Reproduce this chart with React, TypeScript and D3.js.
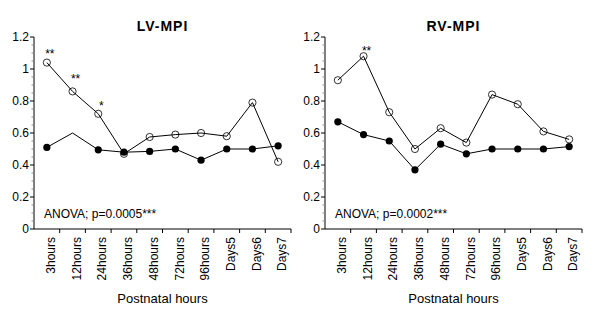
import React from "react";
import * as d3 from "d3";

const categories = ["3hours", "12hours", "24hours", "36hours", "48hours", "72hours", "96hours", "Days5", "Days6", "Days7"];
const yTicks = [0, 0.2, 0.4, 0.6, 0.8, 1, 1.2];

const lvOpen = [1.04, 0.86, 0.72, 0.47, 0.575, 0.59, 0.6, 0.58, 0.79, 0.42];
const lvFilled = [0.51, 0.6, 0.495, 0.48, 0.485, 0.5, 0.43, 0.5, 0.5, 0.52];
const lvFilledHiddenMarkers = ["12hours"];
const lvStars = [
  { cat: "3hours", label: "**", value: 1.067 },
  { cat: "12hours", label: "**", value: 0.91 },
  { cat: "24hours", label: "*", value: 0.745 },
];
const lvAnova = "ANOVA; p=0.0005***";

const rvOpen = [0.93, 1.08, 0.73, 0.5, 0.63, 0.54, 0.84, 0.78, 0.61, 0.56];
const rvFilled = [0.67, 0.59, 0.55, 0.37, 0.53, 0.47, 0.5, 0.5, 0.5, 0.515];
const rvFilledHiddenMarkers: string[] = [];
const rvStars = [{ cat: "12hours", label: "**", value: 1.087 }];
const rvAnova = "ANOVA; p=0.0002***";

const FONT = "Arial, 'Liberation Sans', Helvetica, sans-serif";

function Panel({ x0, title, open, filled, hidden, stars, anova }: any) {
  const left = x0;
  const right = x0 + 257;
  const x = d3.scaleBand().domain(categories).range([left, right]);
  const y = d3.scaleLinear().domain([0, 1.2]).range([229, 37]);
  const cx = (c: string) => (x(c) as number) + x.bandwidth() / 2;
  const line = d3
    .line<number>()
    .x((_, i) => cx(categories[i]))
    .y((d) => y(d));
  const minor = d3.range(0, 1.2001, 0.05).filter((v) => Math.abs(v * 5 - Math.round(v * 5)) > 1e-6);
  return (
    <g fontFamily={FONT}>
      <text x={(left + right) / 2} y={31} textAnchor="middle" fontWeight="bold" fontSize={14} letterSpacing={1}>
        {title}
      </text>
      {/* y axis */}
      <line x1={left} x2={left} y1={y(1.2)} y2={y(0)} stroke="#000" />
      {yTicks.map((t) => (
        <g key={t}>
          <line x1={left - 4} x2={left} y1={y(t)} y2={y(t)} stroke="#000" />
          <text x={left - 5} y={y(t)} dy="0.35em" textAnchor="end" fontSize={12}>
            {d3.format("~g")(t)}
          </text>
        </g>
      ))}
      {minor.map((t) => (
        <line key={t} x1={left - 2.5} x2={left} y1={y(t)} y2={y(t)} stroke="#888" />
      ))}
      {/* x axis */}
      <line x1={left} x2={right} y1={y(0)} y2={y(0)} stroke="#000" />
      {categories.map((c) => (
        <g key={c}>
          <line x1={(x(c) as number) + x.bandwidth()} x2={(x(c) as number) + x.bandwidth()} y1={y(0)} y2={y(0) + 4} stroke="#000" />
          <text
            transform={`translate(${cx(c) + 4},${y(0) + 8}) rotate(-90)`}
            dy="0.35em"
            textAnchor="end"
            fontSize={12}
          >
            {c}
          </text>
        </g>
      ))}
      <text x={(left + right) / 2} y={303} textAnchor="middle" fontSize={13}>
        Postnatal hours
      </text>
      {/* lines */}
      <path d={line(filled) as string} fill="none" stroke="#000" strokeWidth={1} />
      <path d={line(open) as string} fill="none" stroke="#000" strokeWidth={1} />
      {open.map((v: number, i: number) => (
        <circle key={"o" + i} cx={cx(categories[i])} cy={y(v)} r={3.6} fill="none" stroke="#000" strokeWidth={0.8} />
      ))}
      {filled.map((v: number, i: number) =>
        hidden.includes(categories[i]) ? null : (
          <circle key={"f" + i} cx={cx(categories[i])} cy={y(v)} r={3.6} fill="#000" />
        )
      )}
      {stars.map((s: any) => (
        <text key={s.cat} x={cx(s.cat) + 3} y={y(s.value)} textAnchor="middle" fontSize={12}>
          {s.label}
        </text>
      ))}
      <text x={left + 10} y={218} fontSize={12}>
        {anova}
      </text>
    </g>
  );
}

export default function App() {
  return (
    <svg width={600} height={309} style={{ position: "absolute", left: 0, top: 0, background: "#fff" }}>
      <rect width={600} height={309} fill="#fff" />
      <Panel x0={34} title="LV-MPI" open={lvOpen} filled={lvFilled} hidden={lvFilledHiddenMarkers} stars={lvStars} anova={lvAnova} />
      <Panel x0={325} title="RV-MPI" open={rvOpen} filled={rvFilled} hidden={rvFilledHiddenMarkers} stars={rvStars} anova={rvAnova} />
    </svg>
  );
}
